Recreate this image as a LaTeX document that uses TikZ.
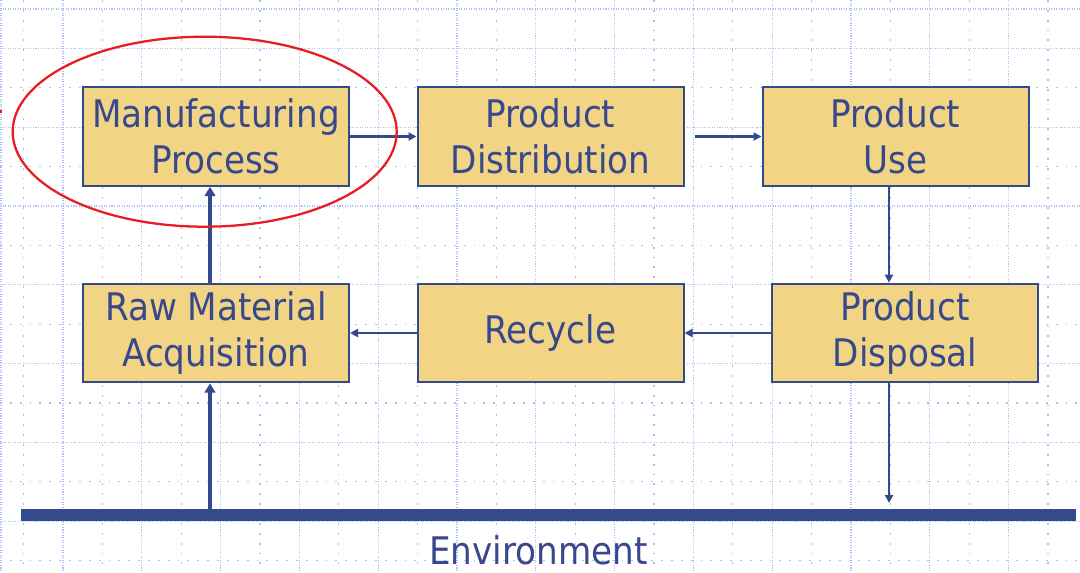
\documentclass[tikz,border=0pt]{standalone}
\usepackage{fontspec}
\setmainfont{DejaVu Sans Condensed}
\usetikzlibrary{arrows.meta,calc}

\definecolor{navy}{RGB}{52,74,138}
\definecolor{inktext}{RGB}{56,72,140}
\definecolor{boxfill}{RGB}{242,212,133}
\definecolor{gridblue}{RGB}{170,192,244}
\definecolor{ringred}{RGB}{232,28,36}

\begin{document}
\begin{tikzpicture}[x=0.75pt,y=-0.75pt,
  stage/.style={draw=navy, line width=1.5pt, fill=boxfill,
    minimum width=199.5pt, minimum height=74pt, inner sep=0pt,
    align=center, text=inktext, font=\fontsize{28.5}{34.5}\selectfont},
  flow/.style={draw=navy, line width=1.9pt,
    -{Triangle[length=6pt,width=6pt]}},
  mainflow/.style={draw=navy, line width=3.4pt,
    -{Triangle[length=7pt,width=8pt]}},
  envbar/.style={draw=navy, line width=8.5pt},
  finegrid/.style={draw=gridblue, line width=0.9pt, dash pattern=on 0.8pt off 1.1pt},
  coarsegrid/.style={draw=gridblue, line width=0.9pt, dash pattern=on 1.4pt off 6pt},
]
% page and white backing
\useasboundingbox (0,0) rectangle (1080,572);
\fill[white] (0,0) rectangle (1080,572);

% dotted background grid
\foreach \k in {0,2,...,26} \draw[coarsegrid] (23.5+39.4*\k,0) -- (23.5+39.4*\k,572);
\foreach \k in {1,3,...,25} \draw[finegrid] (23.5+39.4*\k,0) -- (23.5+39.4*\k,572);
\draw[finegrid] (1,0) -- (1,572);
\foreach \k in {2,4,...,14} \draw[coarsegrid] (0,9+39.4*\k) -- (1080,9+39.4*\k);
\foreach \k in {0,1,3,...,13} \draw[finegrid] (0,9+39.4*\k) -- (1080,9+39.4*\k);

% life-cycle stages
\node[stage] (mp)   at (216,136.5) {Manufacturing\\Process};
\node[stage] (pd)   at (550.5,136.5) {Product\\Distribution};
\node[stage] (pu)   at (895.5,136.5) {Product\\Use};
\node[stage] (disp) at (905,333) {Product\\Disposal};
\node[stage] (rec)  at (550.5,333) {Recycle};
\node[stage] (raw)  at (216,333) {Raw Material\\Acquisition};

% environment baseline
\coordinate (envL) at (21,515);
\coordinate (envR) at (1076,515);
\node[text=inktext, font=\fontsize{28.5}{34.5}\selectfont, anchor=base, inner sep=0pt]
  (envtext) at (538.5,564) {Environment};

% flows between stages
\draw[flow] (mp.east) -- (pd.west);
\draw[flow, shorten <=7.5pt] (pd.east) -- (pu.west);
\draw[flow] ([xshift=-4.9pt]pu.south) -- ([xshift=-4.9pt]pu.south |- disp.north);
\draw[flow] (disp.west) -- (rec.east);
\draw[flow] (rec.west) -- (raw.east);
\draw[mainflow] ([xshift=-4.5pt]raw.north) -- ([xshift=-4.5pt]raw.north |- mp.south);
\draw[mainflow] ([xshift=-4.5pt]raw.south |- envL) -- ([xshift=-4.5pt]raw.south);
\draw[flow, shorten >=9pt] ([xshift=-12pt]disp.south) -- ([xshift=-12pt]disp.south |- envL);
\draw[envbar] (envL) -- (envR);

% highlight ring around the manufacturing stage
\draw[ringred, line width=1.7pt] (204.7,131.7) ellipse [x radius=144pt, y radius=71.25pt];
\fill[ringred] (0,109.5) rectangle (2,113);
\end{tikzpicture}
\end{document}
